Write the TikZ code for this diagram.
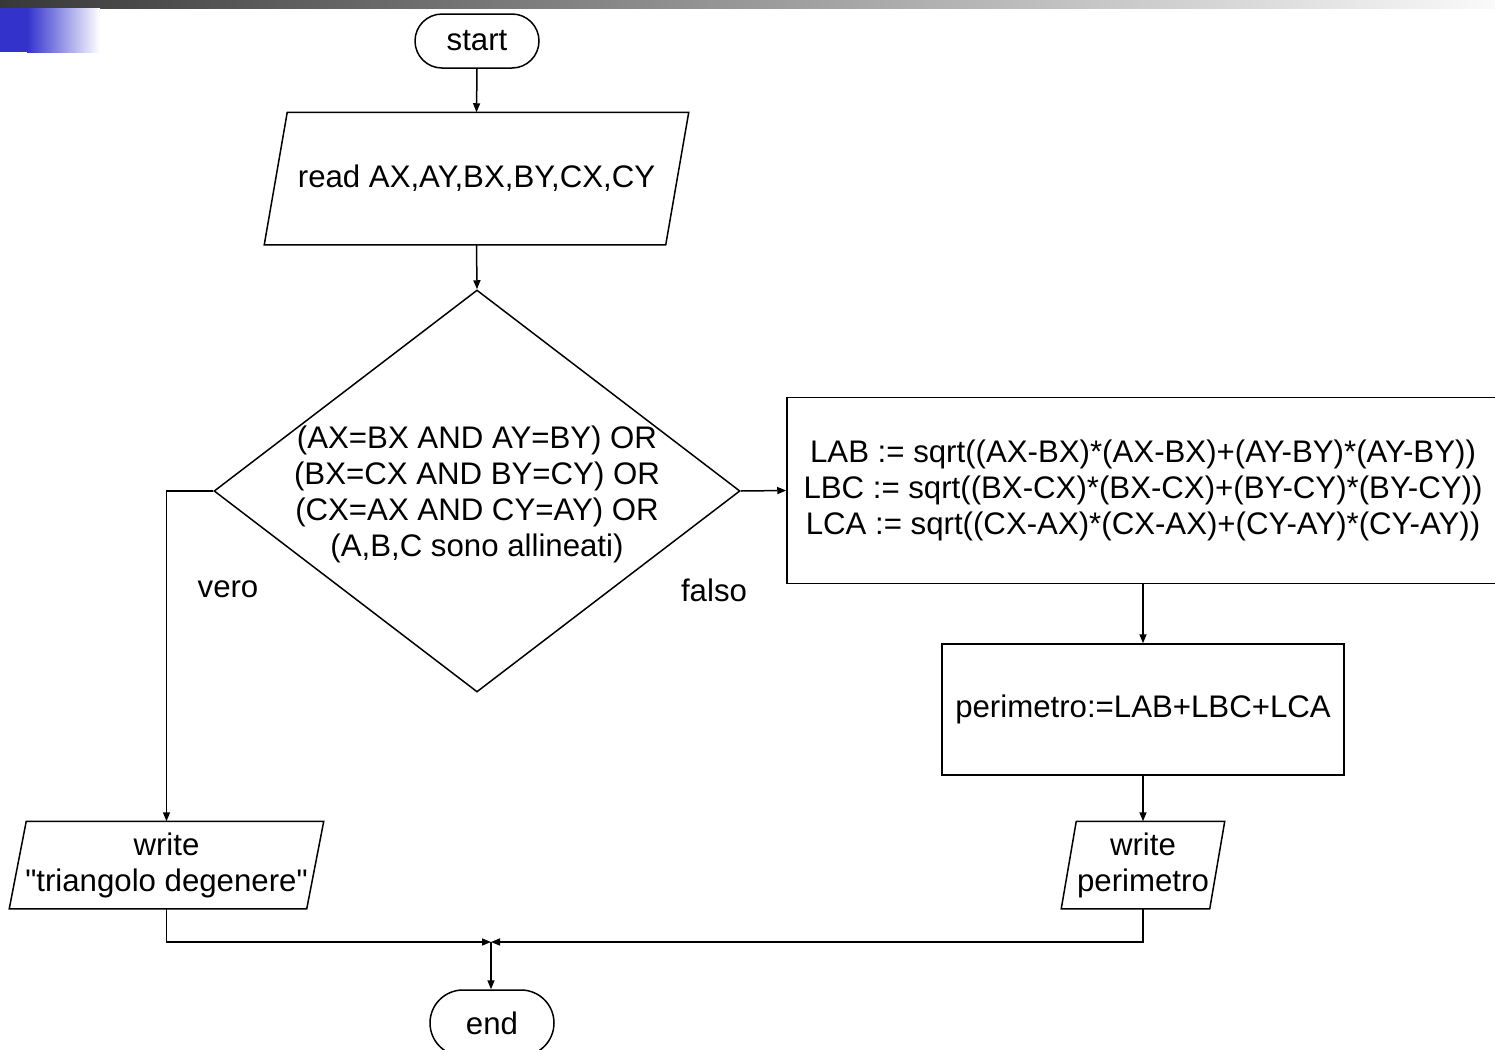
\documentclass[tikz,border=0pt]{standalone}
\usepackage{fontspec}
\setmainfont{Liberation Sans}[Ligatures=TeXOff]
\usetikzlibrary{shapes.geometric,arrows.meta,calc}
\definecolor{slideblue}{HTML}{3333CC}
\begin{document}
\begin{tikzpicture}[x=0.5pt,y=-0.5pt,line width=0.75pt,
  every node/.style={font=\fontsize{15.6pt}{18pt}\selectfont,inner sep=0pt},
  terminal/.style={draw,rectangle,rounded corners=13.5pt,minimum width=62pt,minimum height=27pt},
  procbox/.style={draw,rectangle,align=center},
  iobox/.style={rectangle,align=center},
  decision/.style={draw,diamond,minimum width=263pt,minimum height=201pt},
  flow/.style={-{Triangle[length=4.5pt,width=3.5pt]}},
]
\useasboundingbox (0,0) rectangle (1495,1050);

% slide header strip
\shade[left color=black!78,right color=black!2] (0,0) rectangle (1495,8);
\fill[slideblue] (0,8) rectangle (27,52);
\shade[left color=slideblue,right color=white] (27,8) rectangle (100,52);

% nodes
\node[terminal] (start) at (477,41) {start};

\node[iobox,minimum width=211.5pt,minimum height=65.5pt] (read) at (476.5,178.5) {\raisebox{-1.5pt}{read AX,AY,BX,BY,CX,CY}};
\draw ($(read.north west)+(23,0)$) -- (read.north east) -- ($(read.south east)-(23,0)$) -- (read.south west) -- cycle;

\node[decision] (test) at (477,491) {};
\node[align=center] (testtext) at (477,494) {(AX=BX AND AY=BY) OR\\(BX=CX AND BY=CY) OR\\(CX=AX AND CY=AY) OR\\(A,B,C sono allineati)};

\node (vero) at (228,589) {vero};
\node (falso) at (714,590) {falso};

\node[procbox,minimum width=356pt,minimum height=93pt] (lengths) at (1143,490.5)
  {LAB := sqrt((AX-BX)*(AX-BX)+(AY-BY)*(AY-BY))\\LBC := sqrt((BX-CX)*(BX-CX)+(BY-CY)*(BY-CY))\\LCA := sqrt((CX-AX)*(CX-AX)+(CY-AY)*(CY-AY))};

\node[procbox,minimum width=201pt,minimum height=65.5pt] (perim) at (1143,709.5) {\raisebox{-1.5pt}{perimetro:=LAB+LBC+LCA}};

\node[iobox,minimum width=156.5pt,minimum height=43pt] (wdeg) at (166.5,865) {write\\"triangolo degenere"};
\draw ($(wdeg.north west)+(17,0)$) -- (wdeg.north east) -- ($(wdeg.south east)-(17,0)$) -- (wdeg.south west) -- cycle;

\node[iobox,minimum width=81pt,minimum height=43pt] (wper) at (1143,865) {write\\perimetro};
\draw ($(wper.north west)+(15,0)$) -- (wper.north east) -- ($(wper.south east)-(15,0)$) -- (wper.south west) -- cycle;

\node[terminal,minimum width=62pt,minimum height=33pt,rounded corners=16.5pt] (end) at (492,1023) {end};

\coordinate (join) at (491,942);

% connectors
\draw[flow] (start.south) -- (read.north);
\draw[flow] (read.south) -- (test.north);
\draw[flow] (test.west) -| (wdeg.north);
\draw[flow] (test.east) -- (lengths.west);
\draw[flow] (lengths.south) -- (perim.north);
\draw[flow] (perim.south) -- (wper.north);
\draw[flow] (wdeg.south) |- (join);
\draw[flow] (wper.south) |- (join);
\draw[flow] (join) -- (end.north -| join);
\end{tikzpicture}
\end{document}
